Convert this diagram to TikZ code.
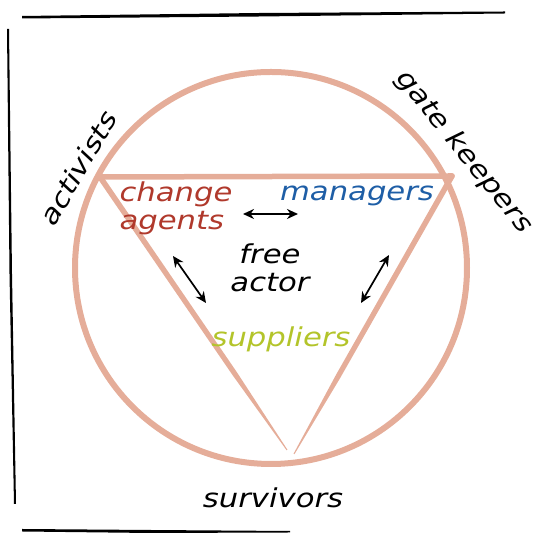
\documentclass[tikz,border=0pt]{standalone}
\usepackage{fontspec}
\setmainfont{DejaVu Sans}[FakeStretch=1.18]
\usetikzlibrary{arrows.meta,calc}
\definecolor{salmon}{HTML}{E5AD99}
\definecolor{agentred}{HTML}{B0392C}
\definecolor{mgrblue}{HTML}{1E5EA6}
\definecolor{suplime}{HTML}{B3C42A}
\tikzset{
  word/.style={font=\itshape\fontsize{26}{28}\selectfont, inner sep=0pt},
  ring/.style={draw=salmon, line width=6pt},
  edge/.style={draw=salmon, line width=5.5pt, line cap=round},
  twoway/.style={{Stealth[length=11pt,width=10pt]}-{Stealth[length=11pt,width=10pt]}, line width=1.7pt, black},
}
\begin{document}
\begin{tikzpicture}[x=1pt,y=1pt]
\useasboundingbox (0,0) rectangle (539,534);

% hand-drawn frame strokes
\fill[black] (22,518) -- (260,521) -- (505,522.5) -- (505,520.5) -- (260,517.5) -- (22,515.5) -- cycle;
\fill[black] (9,505) -- (12,260) -- (16,30) -- (14,30) -- (9.5,260) -- (7,505) -- cycle;
\fill[black] (22,5) -- (150,4) -- (290,3) -- (290,1.5) -- (150,1) -- (22,2.5) -- cycle;

% outer circle
\node[circle, ring, minimum size=392pt, inner sep=0pt] (ring) at (271,266) {};

% inner triangle: a top bar and two brush strokes tapering to the bottom
\coordinate (tl) at (100,357);
\coordinate (tr) at (452,358);
\coordinate (bl) at (287,84);
\coordinate (br) at (294,80);
\coordinate (lm) at ($(tl)!0.72!(bl)$);
\coordinate (rm) at ($(tr)!0.72!(br)$);
\draw[edge] (tl) -- (tr);
\fill[salmon] ($(tl)!2.8pt!90:(bl)$) -- ($(lm)!2.6pt!90:(bl)$) -- ($(bl)!0.5pt!-90:(tl)$)
  -- ($(bl)!0.5pt!90:(tl)$) -- ($(lm)!2.6pt!-90:(bl)$) -- ($(tl)!2.8pt!-90:(bl)$) -- cycle;
\fill[salmon] ($(tr)!2.8pt!90:(br)$) -- ($(rm)!2.6pt!90:(br)$) -- ($(br)!0.5pt!-90:(tr)$)
  -- ($(br)!0.5pt!90:(tr)$) -- ($(rm)!2.6pt!-90:(br)$) -- ($(tr)!2.8pt!-90:(br)$) -- cycle;
\fill[salmon] (tl) circle (2.8pt);
\fill[salmon] (tr) circle (2.8pt);

% labels
\node[word, rotate=60] (activists) at (78,366) {activists};
\node[word, rotate=-51] (gate) at (464,382) {gate keepers};
\node[word, text=agentred, align=left] (agents) at (176,326) {change\\agents};
\node[word, text=mgrblue] (managers) at (357,338) {managers};
\node[word, align=center] (free) at (270,266) {free\\actor};
\node[word, text=suplime] (suppliers) at (281,195) {suppliers};
\node[word] (survivors) at (273,36) {survivors};

% exchanges around the free actor
\coordinate (h1) at (243,320);
\coordinate (h2) at (298,320);
\coordinate (l1) at (173,278);
\coordinate (l2) at (206,231);
\coordinate (r1) at (389,279);
\coordinate (r2) at (361,231);
\draw[twoway] (h1) -- (h2);
\draw[twoway] (l1) -- (l2);
\draw[twoway] (r1) -- (r2);
\end{tikzpicture}
\end{document}
